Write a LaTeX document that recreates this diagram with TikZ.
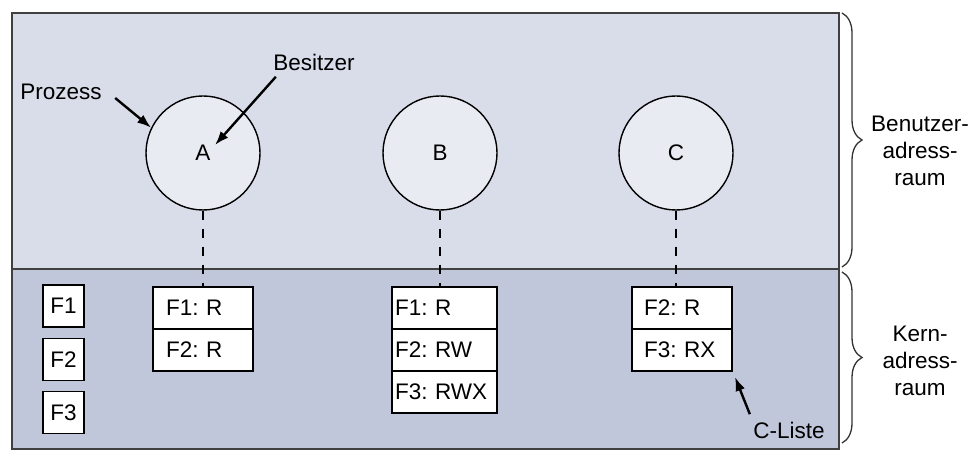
\documentclass[tikz,border=0pt]{standalone}
\usepackage{fontspec}
\setmainfont{Liberation Sans}
\frenchspacing
\usetikzlibrary{arrows.meta,positioning,decorations.pathreplacing}
\definecolor{userbg}{RGB}{217,221,233}
\definecolor{kernbg}{RGB}{193,199,218}
\definecolor{procbg}{RGB}{233,235,242}

\begin{document}
\begin{tikzpicture}[
    x=1pt, y=1pt,
    node distance=10pt,
    every node/.style={font=\fontsize{22.5}{27}\selectfont},
    region/.style={draw=black!75, line width=1.4pt, minimum width=827pt, inner sep=0pt, outer sep=0pt},
    proc/.style={circle, draw, line width=1.4pt, fill=procbg, minimum size=114pt, inner sep=0pt},
    cell/.style 2 args={draw, line width=1.3pt, fill=white, minimum height=42pt, inner ysep=0pt, outer sep=0pt, align=left, text width=#1, inner xsep=#2},
    fbox/.style={draw, line width=1.3pt, fill=white, minimum width=41pt, minimum height=42pt, inner sep=0pt},
    link/.style={line width=2.4pt, dash pattern=on 9pt off 9pt},
    pointer/.style={-{Latex[length=14pt, width=10pt]}, line width=2.4pt},
    brc/.style={decorate, decoration={brace, amplitude=20pt}, line width=1.3pt, draw=black!80}
]
\useasboundingbox (0,0) rectangle (979,463);
\node[region, fill=userbg, minimum height=256pt] (user) at (425.5,322) {};
\node[region, fill=kernbg, minimum height=180pt] (kern) at (425.5,104) {};

\node[proc] (A) at (203,310) {A};
\node[proc] (B) at (440,310) {B};
\node[proc] (C) at (676,310) {C};

\node[fbox] (f1) at (63.5,157) {F1};
\node[fbox, below=of f1] (f2) {F2};
\node[fbox, below=of f2] (f3) {F3};

\node[cell={74pt}{13pt}] (a1) at (203,155) {F1: R};
\node[cell={74pt}{13pt}, below=0pt of a1] (a2) {F2: R};
\node[cell={99pt}{3pt}] (b1) at (444.5,155) {F1: R};
\node[cell={99pt}{3pt}, below=0pt of b1] (b2) {F2: RW};
\node[cell={99pt}{3pt}, below=0pt of b2] (b3) {F3: RWX};
\node[cell={76pt}{12pt}] (c1) at (682,155) {F2: R};
\node[cell={76pt}{12pt}, below=0pt of c1] (c2) {F3: RX};

\draw[link] (A.south) -- (a1.north);
\draw[link] (B.south) -- (B.south |- b1.north);
\draw[link] (C.south) -- (C.south |- c1.north);

\node (prozess) at (61,371) {Prozess};
\node (besitzer) at (314,401) {Besitzer};
\node (cliste) at (789,33) {C-Liste};
\draw[pointer] ([shift={(10,-6)}]prozess.east) -- (A.154);
\draw[pointer] ([shift={(6,-3)}]besitzer.south west) -- ([shift={(12,8)}]A.center);
\draw[pointer] ([shift={(0,4)}]cliste.north west) -- ([shift={(3,-6)}]c2.south east);

\draw[brc] ([xshift=3pt]user.north east) -- ([xshift=3pt, yshift=2pt]user.south east);
\draw[brc] ([xshift=3pt, yshift=-3pt]kern.north east) -- ([xshift=3pt, yshift=6pt]kern.south east);
\node[align=center] (benutzer) at (920,312) {Benutzer-\\adress-\\raum};
\node[align=center] (kernlbl) at (920,102) {Kern-\\adress-\\raum};
\end{tikzpicture}
\end{document}
